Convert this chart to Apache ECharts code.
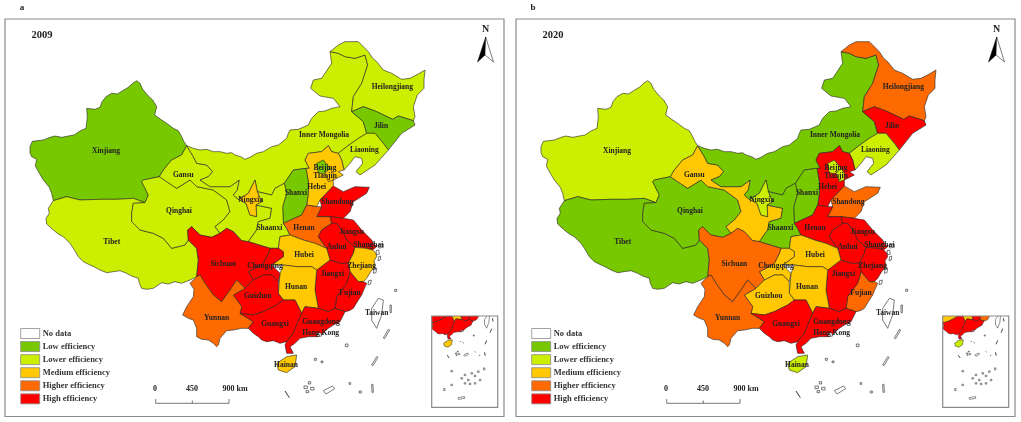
<!DOCTYPE html>
<html>
<head>
<meta charset="utf-8">
<title>Efficiency 2009 / 2020</title>
<script src="https://cdn.jsdelivr.net/npm/echarts@6/dist/echarts.min.js"></script>
<style>
html, body { margin: 0; padding: 0; background: #fff; }
#chart { width: 1021px; height: 422px; filter: blur(0.3px); }
</style>
</head>
<body>
<div id="chart"></div>
<script>
// efficiency class of each province: 0 low, 1 lower, 2 medium, 3 higher, 4 high
var provinces = ['Xinjiang', 'Tibet', 'Qinghai', 'Gansu', 'Inner Mongolia', 'Heilongjiang', 'Jilin', 'Liaoning',
    'Hebei', 'Beijing', 'Tianjin', 'Shanxi', 'Shaanxi', 'Ningxia', 'Shandong', 'Henan', 'Jiangsu', 'Shanghai',
    'Anhui', 'Zhejiang', 'Fujian', 'Jiangxi', 'Hubei', 'Hunan', 'Chongqing', 'Sichuan', 'Guizhou', 'Yunnan',
    'Guangxi', 'Guangdong', 'Hainan'];
var efficiency2009 = [0, 1, 1, 1, 1, 1, 0, 1, 2, 0, 2, 0, 1, 2, 4, 3, 4, 4, 4, 2, 4, 4, 2, 2, 4, 4, 4, 3, 4, 4, 2];
var efficiency2020 = [1, 0, 0, 2, 0, 3, 4, 1, 4, 1, 1, 0, 0, 1, 3, 4, 4, 4, 4, 4, 3, 4, 2, 2, 2, 3, 2, 3, 4, 4, 1];
var legendLabels = ['No data', 'Low efficiency', 'Lower efficiency', 'Medium efficiency', 'Higher efficiency', 'High efficiency'];
var legendColors = ['#ffffff', '#78c800', '#ccee00', '#ffc800', '#ff6a00', '#ff0000'];
var scaleLabels = ['0', '450', '900 km'];

var SERIF = '"Liberation Serif", serif';

// outlines traced by hand, in a 1530 x 1266 drawing space
var outlines = {
    'Xinjiang': [90,440, 97,424, 130,420, 150,412, 165,408, 185,412, 205,408, 222,405, 240,393, 258,385, 262,352, 260,325, 285,328, 300,322, 306,305, 318,290, 335,280, 352,282, 368,272, 385,262, 398,250, 410,242, 420,250, 428,268, 445,288, 458,300, 470,320, 464,345, 482,358, 500,370, 520,385, 535,392, 545,410, 552,425, 560,437, 545,465, 515,480, 490,510, 478,530, 430,540, 425,545, 445,585, 435,608, 400,595, 350,598, 300,598, 240,600, 200,590, 160,602, 155,580, 148,562, 130,540, 118,520, 106,498, 110,478, 95,470, 90,458],
    'Tibet': [160,602, 200,590, 240,600, 300,598, 350,598, 400,595, 435,608, 400,610, 395,640, 395,665, 420,690, 460,700, 490,715, 515,745, 555,735, 565,720, 590,745, 595,780, 590,830, 570,840, 545,850, 525,845, 505,852, 485,848, 460,865, 440,868, 425,865, 418,850, 415,835, 395,828, 380,820, 360,812, 340,815, 320,818, 300,810, 282,800, 270,795, 250,785, 235,770, 222,748, 210,730, 190,710, 175,702, 160,690, 140,672, 138,655, 148,640, 145,625],
    'Qinghai': [430,540, 478,530, 500,545, 530,565, 570,540, 590,560, 640,570, 680,600, 690,635, 670,660, 645,680, 660,700, 635,712, 600,705, 575,680, 563,690, 565,720, 555,735, 515,745, 490,715, 460,700, 420,690, 395,665, 395,640, 400,610, 435,608, 445,585, 425,545],
    'Gansu': [560,437, 580,470, 590,490, 620,495, 638,515, 625,530, 600,540, 630,560, 665,560, 690,560, 718,540, 712,570, 700,585, 715,598, 738,610, 750,645, 770,650, 768,615, 815,625, 810,655, 775,665, 770,690, 745,725, 725,722, 700,695, 680,685, 660,700, 645,680, 670,660, 690,635, 680,600, 640,570, 590,560, 570,540, 530,565, 500,545, 478,530, 490,510, 515,480, 545,465],
    'Inner Mongolia': [560,437, 580,445, 600,450, 620,448, 640,455, 660,455, 680,460, 695,458, 705,465, 722,470, 735,478, 750,472, 770,460, 790,455, 815,440, 835,435, 860,415, 865,400, 870,390, 895,388, 925,375, 935,355, 955,335, 975,333, 995,325, 1020,320, 1000,295, 960,288, 932,265, 940,240, 965,235, 975,220, 995,190, 990,155, 1015,160, 1035,170, 1065,175, 1095,165, 1103,195, 1085,250, 1060,290, 1055,335, 1090,365, 1100,400, 1075,415, 1040,440, 1015,460, 995,455, 985,437, 965,455, 925,460, 915,480, 928,505, 918,505, 880,510, 853,550, 825,565, 815,585, 772,575, 765,540, 755,560, 745,580, 715,598, 700,585, 712,570, 718,540, 690,560, 665,560, 630,560, 600,540, 625,530, 638,515, 620,495, 590,490, 580,470],
    'Heilongjiang': [990,155, 1015,135, 1035,125, 1075,125, 1105,155, 1118,175, 1130,185, 1150,210, 1175,220, 1205,238, 1230,235, 1255,222, 1275,210, 1272,240, 1272,265, 1252,285, 1240,320, 1245,350, 1240,362, 1195,348, 1178,358, 1130,335, 1090,320, 1055,335, 1060,290, 1085,250, 1103,195, 1095,165, 1065,175, 1035,170, 1015,160],
    'Jilin': [1055,335, 1090,320, 1130,335, 1178,358, 1195,348, 1240,362, 1245,375, 1205,400, 1165,450, 1150,430, 1125,400, 1100,400, 1090,365],
    'Liaoning': [1100,400, 1125,400, 1150,430, 1165,450, 1125,495, 1080,525, 1068,515, 1088,490, 1085,475, 1065,470, 1050,490, 1032,510, 1025,480, 1015,460, 1040,440, 1075,415],
    'Hebei': [985,437, 995,455, 1015,460, 1025,480, 1032,510, 1015,515, 1030,525, 1000,540, 1000,558, 960,600, 950,620, 920,615, 925,580, 925,545, 918,505, 928,505, 915,480, 925,460, 965,455],
    'Beijing': [950,490, 970,480, 990,505, 975,520, 955,520],
    'Tianjin': [975,520, 990,505, 1000,520, 1000,540, 985,545],
    'Shanxi': [918,505, 925,545, 925,580, 920,615, 905,645, 850,670, 848,620, 860,580, 853,550, 880,510],
    'Shaanxi': [853,550, 860,580, 848,620, 850,670, 860,685, 870,705, 840,710, 835,745, 810,745, 745,725, 770,690, 775,665, 810,655, 815,625, 768,615, 785,605, 778,590, 772,575, 815,585, 825,565],
    'Ningxia': [765,540, 772,575, 778,590, 785,605, 768,615, 770,650, 750,645, 738,610, 715,598, 745,580, 755,560],
    'Shandong': [960,600, 1000,558, 1030,575, 1065,560, 1108,562, 1100,580, 1060,605, 1050,635, 1030,655, 990,650, 950,650, 965,620],
    'Henan': [920,615, 950,620, 965,620, 950,650, 990,650, 995,670, 965,690, 955,710, 980,745, 945,730, 910,720, 870,705, 860,685, 850,670, 905,645],
    'Jiangsu': [990,650, 1030,655, 1060,660, 1085,690, 1115,720, 1120,730, 1098,745, 1065,742, 1040,720, 1025,690, 1010,670, 995,670],
    'Shanghai': [1120,730, 1130,740, 1118,750, 1098,745],
    'Anhui': [965,690, 995,670, 1010,670, 1025,690, 1040,720, 1065,742, 1060,760, 1045,790, 1020,790, 990,780, 980,745, 955,710],
    'Zhejiang': [1065,742, 1098,745, 1118,750, 1128,760, 1130,770, 1122,782, 1125,800, 1112,815, 1100,835, 1090,845, 1075,845, 1050,815, 1045,790, 1060,760],
    'Fujian': [1050,815, 1075,845, 1090,845, 1100,850, 1092,868, 1085,885, 1072,905, 1060,925, 1048,932, 1035,935, 1005,925, 1010,890, 1040,850],
    'Jiangxi': [990,780, 1020,790, 1045,790, 1050,815, 1040,850, 1010,890, 1005,925, 985,935, 955,925, 945,870, 950,810],
    'Hubei': [835,745, 840,710, 870,705, 910,720, 945,730, 980,745, 990,780, 950,810, 935,800, 890,800, 850,795, 815,795, 850,770, 850,755],
    'Hunan': [850,795, 890,800, 935,800, 950,810, 945,870, 955,925, 915,920, 905,940, 885,900, 850,900, 835,880, 840,820],
    'Chongqing': [810,745, 835,745, 850,755, 850,770, 815,795, 840,820, 835,845, 815,825, 790,825, 760,840, 745,815, 765,805, 790,790, 805,760],
    'Sichuan': [563,690, 575,680, 600,705, 635,712, 660,700, 680,685, 700,695, 725,722, 745,725, 810,745, 805,760, 790,790, 765,805, 745,815, 760,840, 735,865, 710,840, 690,870, 665,905, 640,885, 615,850, 600,825, 590,830, 595,780, 590,745, 565,720],
    'Guizhou': [735,865, 760,840, 790,825, 815,825, 835,845, 835,880, 850,900, 830,915, 790,935, 760,945, 720,940, 725,920, 700,885],
    'Yunnan': [590,830, 600,825, 615,850, 640,885, 665,905, 690,870, 710,840, 735,865, 700,885, 725,920, 720,940, 760,965, 745,985, 725,985, 700,990, 680,992, 660,1015, 655,1035, 650,1040, 640,1030, 625,1020, 605,1018, 590,1010, 590,985, 580,960, 565,955, 548,945, 560,920, 580,890, 582,868, 570,850],
    'Guangxi': [720,940, 760,945, 790,935, 830,915, 850,900, 885,900, 905,940, 890,975, 880,1000, 860,1025, 840,1030, 820,1022, 800,1025, 785,1020, 775,1010, 760,1000, 745,985, 760,965],
    'Guangdong': [905,940, 915,920, 955,925, 985,935, 1005,925, 1035,935, 1020,965, 1000,975, 985,985, 965,1003, 950,1010, 925,1010, 900,1015, 885,1030, 870,1040, 880,1060, 860,1060, 855,1035, 860,1025, 880,1000, 890,975],
    'Hainan': [830,1090, 860,1070, 890,1065, 885,1100, 860,1118, 835,1110],
    'Taiwan': [1135,895, 1150,900, 1145,945, 1130,985, 1115,960, 1115,925],
    'Hong Kong': [950,1000, 962,998, 965,1008, 952,1010]
};

// where the province names sit, same drawing space
var labelPoints = {
    'Xinjiang': [318,453], 'Tibet': [335,727], 'Qinghai': [537,634], 'Gansu': [550,525], 'Inner Mongolia': [972,405],
    'Heilongjiang': [1177,260], 'Jilin': [1143,377], 'Liaoning': [1093,449], 'Beijing': [975,505], 'Tianjin': [975,527],
    'Hebei': [950,560], 'Shanxi': [888,580], 'Shaanxi': [808,684], 'Ningxia': [752,600], 'Shandong': [1012,606],
    'Henan': [912,685], 'Jiangsu': [1055,695], 'Shanghai': [1105,735], 'Anhui': [1010,742], 'Zhejiang': [1085,798],
    'Fujian': [1050,880], 'Jiangxi': [997,823], 'Hubei': [912,766], 'Hunan': [888,861], 'Chongqing': [795,798],
    'Sichuan': [670,793], 'Guizhou': [773,887], 'Yunnan': [650,953], 'Guangxi': [825,973], 'Guangdong': [963,965],
    'Hong Kong': [962,998], 'Hainan': [858,1095], 'Taiwan': [1130,940]
};

// small islands and dash marks of the sea border
var seaMarks = [
    [1170,915, 1174,915, 1174,938, 1170,938], [1165,988, 1169,990, 1154,1016, 1150,1014], [1130,1070, 1134,1072, 1119,1097, 1115,1095],
    [1115,1153, 1119,1153, 1120,1177, 1116,1177], [855,1173, 858,1171, 868,1193, 865,1195], [970,1172, 998,1158, 1004,1166, 978,1182],
    [1184,868, 1190,868, 1190,874, 1184,874], [1036,1032, 1044,1032, 1044,1040, 1036,1040], [943,1075, 949,1075, 949,1081, 943,1081],
    [963,1083, 969,1083, 969,1088, 963,1088], [1047,1148, 1052,1148, 1052,1153, 1047,1153], [1078,1173, 1084,1173, 1084,1179, 1078,1179],
    [912,1158, 922,1158, 922,1166, 912,1166], [925,1145, 932,1145, 932,1152, 925,1152], [932,1162, 942,1162, 942,1170, 932,1170],
    [918,1172, 926,1172, 926,1178, 918,1178], [1128,752, 1136,750, 1138,762, 1130,764], [1136,770, 1142,768, 1141,780, 1134,782],
    [1122,806, 1130,804, 1128,818, 1120,820], [1106,842, 1114,840, 1112,852, 1104,854], [1134,735, 1150,732, 1150,742, 1136,744]
];

// only the inset reaches this far south
var insetMarks = [
    [880,1280, 892,1280, 892,1290, 880,1290], [830,1406, 840,1406, 840,1420, 830,1420], [880,1376, 892,1376, 892,1386, 880,1386],
    [930,1470, 975,1462, 978,1474, 934,1482], [950,1330, 962,1330, 962,1340, 950,1340], [973,1306, 985,1306, 985,1316, 973,1316],
    [996,1342, 1008,1342, 1008,1352, 996,1352], [1020,1295, 1032,1295, 1032,1305, 1020,1305], [1043,1313, 1055,1313, 1055,1323, 1043,1323],
    [1066,1283, 1078,1283, 1078,1293, 1066,1293], [973,1365, 985,1365, 985,1375, 973,1375], [1008,1369, 1020,1369, 1020,1379, 1008,1379],
    [1043,1365, 1055,1365, 1055,1375, 1043,1375], [1078,1342, 1090,1342, 1090,1352, 1078,1352], [1108,1262, 1118,1262, 1118,1276, 1108,1276]
];

function toFeature(name, flat, cp) {
    var ring = [];
    for (var i = 0; i < flat.length; i += 2) {
        ring.push([flat[i], flat[i + 1]]);
    }
    ring.push(ring[0].slice());
    var props = {name: name};
    if (cp) {
        props.cp = cp;
    }
    return {type: 'Feature', properties: props, geometry: {type: 'Polygon', coordinates: [ring]}};
}

function buildMap(marks) {
    var features = [];
    Object.keys(outlines).forEach(function (name) {
        features.push(toFeature(name, outlines[name], labelPoints[name]));
    });
    marks.forEach(function (flat, i) {
        features.push(toFeature('isle' + i, flat));
    });
    return {type: 'FeatureCollection', features: features};
}

// one map name per series, series sharing a map get merged by echarts
echarts.registerMap('main2009', buildMap(seaMarks));
echarts.registerMap('main2020', buildMap(seaMarks));
echarts.registerMap('inset2009', buildMap(seaMarks.concat(insetMarks)));
echarts.registerMap('inset2020', buildMap(seaMarks.concat(insetMarks)));

function flatProjection() {
    return {
        project: function (p) { return [p[0], p[1]]; },
        unproject: function (p) { return [p[0], p[1]]; }
    };
}

function seriesData(values) {
    return provinces.map(function (name, i) {
        return {name: name, value: values[i]};
    });
}

function mapSeries(mapName, values, offsetX) {
    return {
        type: 'map',
        map: mapName,
        projection: flatProjection(),
        boundingCoords: [[0, 0], [1530, 1266]],
        left: offsetX,
        top: 0,
        width: 510,
        height: 422,
        silent: true,
        selectedMode: false,
        itemStyle: {areaColor: '#fff', borderColor: '#222', borderWidth: 0.6},
        label: {
            show: true,
            fontFamily: SERIF,
            fontWeight: 'bold',
            fontSize: 7.5,
            color: '#222',
            formatter: function (p) {
                return p.name.indexOf('isle') === 0 ? '' : p.name;
            }
        },
        data: seriesData(values)
    };
}

function insetSeries(mapName, values, offsetX) {
    return {
        type: 'map',
        map: mapName,
        projection: flatProjection(),
        boundingCoords: [[746.5, 900], [1207, 1537]],
        left: offsetX + 431.7,
        top: 316,
        width: 66,
        height: 91.3,
        clip: true,
        silent: true,
        selectedMode: false,
        itemStyle: {areaColor: '#fff', borderColor: '#222', borderWidth: 0.5},
        label: {show: false},
        data: seriesData(values)
    };
}

function legendFor(seriesIndex, offsetX) {
    return {
        type: 'piecewise',
        seriesIndex: seriesIndex,
        left: offsetX + 20.7,
        top: 328.5,
        align: 'left',
        itemWidth: 19,
        itemHeight: 10,
        itemGap: 3.07,
        textGap: 3,
        padding: 0,
        inverse: true,
        selectedMode: false,
        hoverLink: false,
        itemSymbol: 'rect',
        textStyle: {fontFamily: SERIF, fontWeight: 'bold', fontSize: 8.5, color: '#333'},
        pieces: legendLabels.map(function (label, i) {
            return {value: i - 1, label: label, color: legendColors[i]};
        })
    };
}

function panelGraphics(offsetX, letter, year) {
    var items = [];
    function text(x, y, s, size, align) {
        items.push({type: 'text', x: offsetX + x, y: y, z: 20, style: {
            text: s, fontFamily: SERIF, fontWeight: 'bold', fontSize: size, fill: '#222', align: align || 'center', verticalAlign: 'middle'
        }});
    }
    function line(x1, y1, x2, y2) {
        items.push({type: 'line', z: 20, shape: {x1: offsetX + x1, y1: y1, x2: offsetX + x2, y2: y2}, style: {stroke: '#555', lineWidth: 0.8}});
    }
    // outer frame and inset frame
    items.push({type: 'rect', z: 20, shape: {x: offsetX + 5, y: 19, width: 499, height: 397.5}, style: {fill: 'none', stroke: '#8a8a8a', lineWidth: 1.2}});
    items.push({type: 'rect', z: 20, shape: {x: offsetX + 431.7, y: 316, width: 66, height: 91.3}, style: {fill: 'none', stroke: '#8a8a8a', lineWidth: 1.2}});
    text(22, 8, letter, 9);
    text(42, 35.5, year, 10.5);
    // north arrow
    text(485.7, 29.5, 'N', 10);
    items.push({type: 'polygon', z: 20, shape: {points: [[offsetX + 485.7, 37], [offsetX + 477.5, 62], [offsetX + 485, 55]]}, style: {fill: '#000', stroke: '#000', lineWidth: 0.5}});
    items.push({type: 'polygon', z: 20, shape: {points: [[offsetX + 485.7, 37], [offsetX + 493.5, 62], [offsetX + 485, 55]]}, style: {fill: '#fff', stroke: '#000', lineWidth: 0.5}});
    // scale bar
    line(155.7, 403.3, 229, 403.3);
    line(155.7, 399, 155.7, 403.3);
    line(192.3, 400.5, 192.3, 403.3);
    line(229, 399, 229, 403.3);
    text(155, 389, scaleLabels[0], 8);
    text(192, 389, scaleLabels[1], 8);
    text(235, 389, scaleLabels[2], 8);
    // swatch borders, the piecewise legend draws none
    legendLabels.forEach(function (label, i) {
        items.push({type: 'rect', z: 20, shape: {x: offsetX + 20.7, y: 328.5 + i * 13.07, width: 19, height: 10}, style: {fill: 'none', stroke: '#8a8a8a', lineWidth: 0.8}});
    });
    return items;
}

var chart = echarts.init(document.getElementById('chart'));
chart.setOption({
    animation: false,
    backgroundColor: '#fff',
    visualMap: [legendFor([0, 2], 0), legendFor([1, 3], 511)],
    graphic: panelGraphics(0, 'a', '2009').concat(panelGraphics(511, 'b', '2020')),
    series: [
        mapSeries('main2009', efficiency2009, 0),
        mapSeries('main2020', efficiency2020, 511),
        insetSeries('inset2009', efficiency2009, 0),
        insetSeries('inset2020', efficiency2020, 511)
    ]
});
</script>
</body>
</html>
